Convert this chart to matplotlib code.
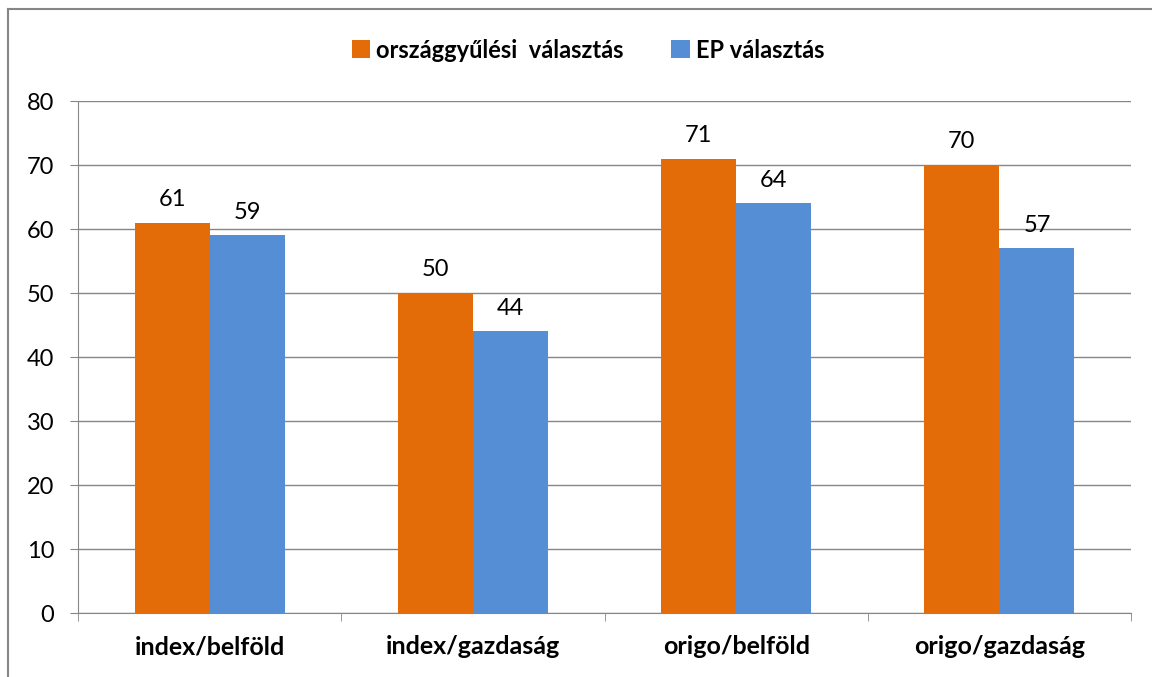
import numpy as np
import matplotlib.pyplot as plt
from matplotlib.lines import Line2D

categories = ['index/belföld', 'index/gazdaság', 'origo/belföld', 'origo/gazdaság']
orszaggyulesi = [61, 50, 71, 70]
ep = [59, 44, 64, 57]
series_names = ['országgyűlési  választás', 'EP választás']
y_ticks = [0, 10, 20, 30, 40, 50, 60, 70, 80]

plt.rcParams['font.family'] = ['Lato', 'DejaVu Sans']

W, H = 1152, 677
fig = plt.figure(figsize=(W / 100, H / 100), dpi=100)
ax = fig.add_axes([78 / W, (H - 613) / H, (1131 - 78) / W, (613 - 101) / H])

x = np.arange(len(categories))
bw = 0.285
orange = '#E36C09'
blue = '#558ED5'
b1 = ax.bar(x - bw / 2, orszaggyulesi, bw, color=orange, label=series_names[0], zorder=3)
b2 = ax.bar(x + bw / 2, ep, bw, color=blue, label=series_names[1], zorder=3)

# értékcímkék
for bars in (b1, b2):
    for r in bars:
        ax.annotate(f'{int(r.get_height())}', (r.get_x() + r.get_width() / 2, r.get_height()),
                    xytext=(0, 9), textcoords='offset points', ha='center', va='bottom',
                    fontsize=17)

ax.set_xlim(-0.5, len(categories) - 0.5)
ax.set_ylim(0, 80)
ax.set_yticks(y_ticks)
ax.yaxis.grid(True, color='#868686', linewidth=1, zorder=0)
ax.set_axisbelow(True)

ax.set_xticks(x)
ax.set_xticklabels(categories, fontsize=18, fontweight='bold')
ax.tick_params(axis='x', length=0, pad=16)
ax.set_xticks(np.arange(-0.5, len(categories)), minor=True)
ax.tick_params(axis='x', which='minor', length=6, color='#868686', direction='out')
ax.tick_params(axis='y', labelsize=17, length=6, color='#868686', pad=11)

ax.spines['right'].set_visible(False)
ax.spines['top'].set_visible(False)
ax.spines['left'].set_color('#868686')
ax.spines['bottom'].set_color('#868686')

ax.legend(loc='center', bbox_to_anchor=(588 / W, (H - 50) / H), bbox_transform=fig.transFigure,
          ncol=2, frameon=False, prop={'size': 17, 'weight': 'bold'},
          handlelength=0.8, handleheight=0.8, handletextpad=0.25, columnspacing=2.0)

# keret
fig.add_artist(Line2D([8 / W, 8 / W], [0, (H - 9) / H], color='#868686', lw=1.5, transform=fig.transFigure))
fig.add_artist(Line2D([8 / W, 1], [(H - 9) / H, (H - 9) / H], color='#868686', lw=1.5, transform=fig.transFigure))

fig.savefig('out.png', dpi=100)
